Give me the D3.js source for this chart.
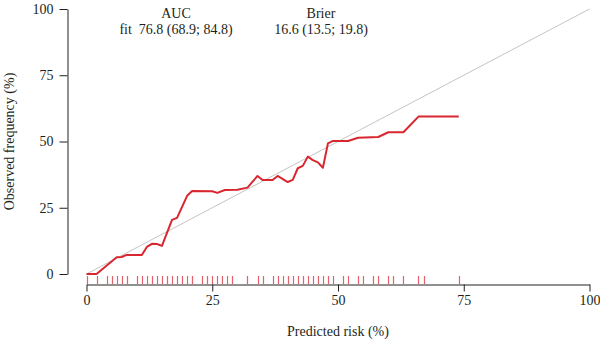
<!DOCTYPE html>
<html>
<head>
<meta charset="utf-8">
<script src="https://cdn.jsdelivr.net/npm/d3@7"></script>
<style>
  body { margin: 0; background: #fff; }
  text { font-family: "Liberation Serif", "DejaVu Serif", serif; fill: #231f20; }
</style>
</head>
<body>
<div id="chart"></div>
<script>
// calibration curve (predicted risk %, observed frequency %)
var predicted = [0, 2, 6, 7, 8, 11, 12, 13, 14, 15, 17, 18, 20, 21, 25, 26, 27.5, 30, 32, 34, 35, 37, 38,
                 40, 41, 42, 43, 44, 45, 46, 47, 48, 49, 52, 54, 58, 60, 63, 66, 74];
var observed  = [0, 0, 6.3, 6.4, 7.2, 7.2, 10.2, 11.4, 11.3, 10.6, 20.4, 21.2, 29.5, 31.3, 31.2, 30.6, 31.7, 31.8, 32.6, 37, 35.5, 35.5, 37,
                 34.7, 35.5, 39.9, 40.8, 44.3, 43, 42.1, 40.1, 49.3, 50.2, 50.2, 51.4, 51.7, 53.5, 53.5, 59.4, 59.4];

// rug of predicted risks
var rugValues = [0, 2, 4, 5, 6, 7, 8, 10, 11, 12, 13, 14, 15, 16, 17, 18, 19, 20, 21,
                 23, 24, 25, 26, 27, 28, 29, 32, 34, 35, 37, 38, 39, 40, 41, 42, 43, 44, 45, 46, 47, 48, 49,
                 51, 52, 54, 55, 57, 58, 60, 61, 63, 66, 67, 74];

var tickValues = [0, 25, 50, 75, 100];
var aucLabel = ["AUC", "fit  76.8 (68.9; 84.8)"];
var brierLabel = ["Brier", "16.6 (13.5; 19.8)"];

var width = 600, height = 342;
var fontSize = "14px";

var svg = d3.select("#chart")
  .append("svg")
    .attr("width", width)
    .attr("height", height);

var x = d3.scaleLinear().domain([0, 100]).range([86.5, 589.5]);
var y = d3.scaleLinear().domain([0, 100]).range([274, 9]);

// axes
var xAxis = svg.append("g")
  .attr("transform", "translate(0,284.5)")
  .call(d3.axisBottom(x).tickValues(tickValues).tickSize(7).tickSizeOuter(0).tickPadding(4));
var yAxis = svg.append("g")
  .attr("transform", "translate(67.5,0)")
  .call(d3.axisLeft(y).tickValues(tickValues).tickSize(8).tickSizeOuter(0).tickPadding(6));

[xAxis, yAxis].forEach(function(g) {
  g.select(".domain").attr("stroke", "#231f20");
  g.selectAll(".tick line").attr("stroke", "#231f20");
  g.selectAll(".tick text")
    .style("font-family", "'Liberation Serif', serif")
    .style("font-size", fontSize)
    .attr("fill", "#231f20");
});

// ideal line
svg.append("line")
  .attr("x1", x(0)).attr("y1", y(0))
  .attr("x2", x(100)).attr("y2", y(100))
  .attr("stroke", "#c4c4c4")
  .attr("stroke-width", 1);

// rug
svg.append("g")
  .selectAll("line")
  .data(rugValues)
  .enter().append("line")
    .attr("x1", function(d) { return Math.round(x(d)) + 0.5; })
    .attr("x2", function(d) { return Math.round(x(d)) + 0.5; })
    .attr("y1", 276)
    .attr("y2", 284)
    .attr("stroke", "#e4606b")
    .attr("stroke-width", 1.2);

// calibration curve
var curve = predicted.map(function(p, i) { return {p: p, o: observed[i]}; });
svg.append("path")
  .datum(curve)
  .attr("fill", "none")
  .attr("stroke", "#d9272f")
  .attr("stroke-width", 2)
  .attr("stroke-linejoin", "round")
  .attr("d", d3.line()
    .x(function(d) { return x(d.p); })
    .y(function(d) { return y(d.o); })
  );

// AUC / Brier summary
function block(lines, cx) {
  lines.forEach(function(t, i) {
    svg.append("text")
      .attr("x", cx)
      .attr("y", 18 + i * 16)
      .attr("text-anchor", "middle")
      .style("font-size", fontSize)
      .style("white-space", "pre")
      .text(t);
  });
}
block(aucLabel, 176);
block(brierLabel, 321);

// axis titles
svg.append("text")
  .attr("x", x(50))
  .attr("y", 336)
  .attr("text-anchor", "middle")
  .style("font-size", fontSize)
  .text("Predicted risk (%)");

svg.append("text")
  .attr("transform", "translate(14," + y(50) + ") rotate(-90)")
  .attr("text-anchor", "middle")
  .style("font-size", fontSize)
  .text("Observed frequency (%)");
</script>
</body>
</html>
